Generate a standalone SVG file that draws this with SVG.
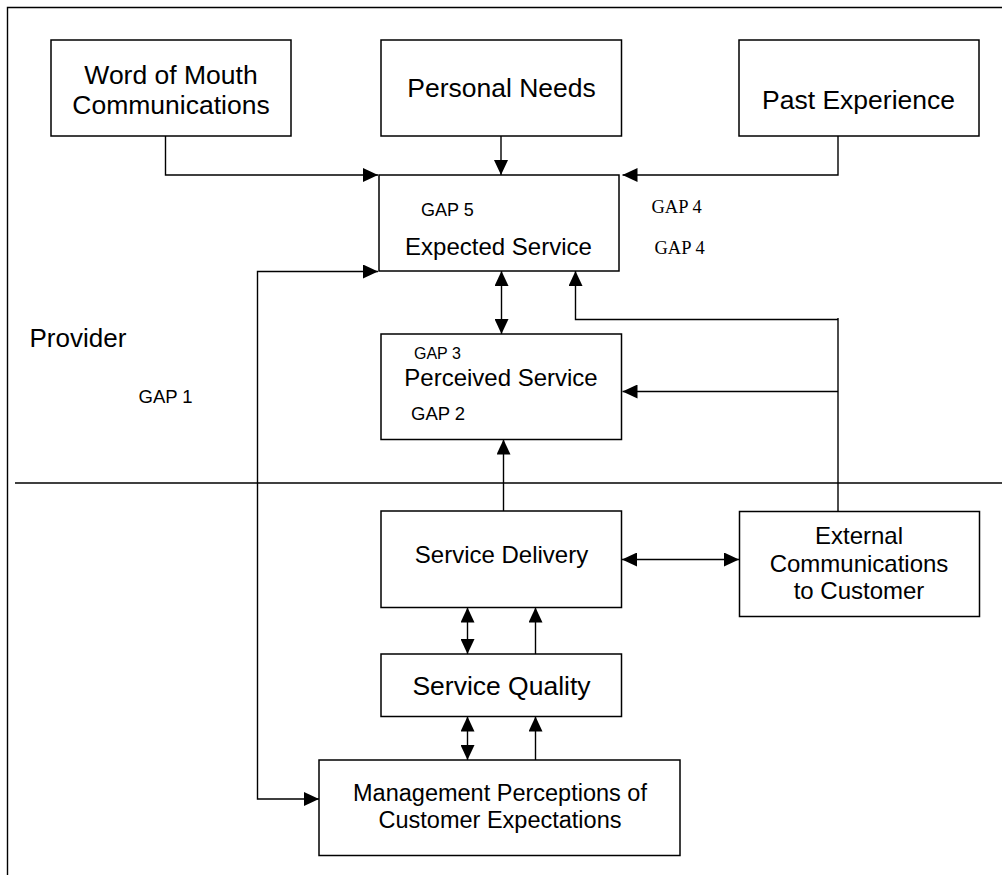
<svg xmlns="http://www.w3.org/2000/svg" width="1002" height="875" viewBox="0 0 1002 875">
<defs>
<marker id="ah" markerUnits="userSpaceOnUse" markerWidth="15" markerHeight="14" refX="15" refY="7" orient="auto-start-reverse">
<path d="M0,0 L15,7 L0,14 Z" fill="#000"/>
</marker>
<style>
rect.box{fill:#fff;stroke:#000;stroke-width:1.5}
.ln{fill:none;stroke:#000;stroke-width:1.4}
text{font-family:"Liberation Sans",Arial,sans-serif;fill:#000}
.c{text-anchor:middle}
.big{font-size:26.5px}
.mid{font-size:24px}
.tm{font-family:"Liberation Serif","Times New Roman",serif;font-size:18.5px}
</style>
</defs>
<rect width="1002" height="875" fill="#fff"/>
<g id="frame">
<path class="ln" d="M7.5,875 V7.5 H1002"/>
<path class="ln" d="M15,483 H1002"/>
</g>
<g id="connectors">
<path class="ln" d="M165.5,136 V175 H378" marker-end="url(#ah)"/>
<path class="ln" d="M501,136 V175" marker-end="url(#ah)"/>
<path class="ln" d="M838,136 V175 H622.5" marker-end="url(#ah)"/>
<path class="ln" d="M501.5,271 V334" marker-start="url(#ah)" marker-end="url(#ah)"/>
<path class="ln" d="M838,319.5 H575.5 V271" marker-end="url(#ah)"/>
<path class="ln" d="M838,318 V511"/>
<path class="ln" d="M838,391.5 H622.5" marker-end="url(#ah)"/>
<path class="ln" d="M503.5,511 V439.5" marker-end="url(#ah)"/>
<path class="ln" d="M622,559.5 H739" marker-start="url(#ah)" marker-end="url(#ah)"/>
<path class="ln" d="M467.5,607.5 V654" marker-start="url(#ah)" marker-end="url(#ah)"/>
<path class="ln" d="M535.5,654 V607.5" marker-end="url(#ah)"/>
<path class="ln" d="M467.5,716.5 V760" marker-start="url(#ah)" marker-end="url(#ah)"/>
<path class="ln" d="M535.5,760 V716.5" marker-end="url(#ah)"/>
<path class="ln" d="M378,271.5 H257.5 V799 H319" marker-start="url(#ah)" marker-end="url(#ah)"/>
</g>
<g id="word-of-mouth">
<rect class="box" x="51" y="40" width="240" height="96"/>
<text class="big c" x="171" y="84">Word of Mouth</text>
<text class="big c" x="171" y="114">Communications</text>
</g>
<g id="personal-needs">
<rect class="box" x="381" y="40" width="240.5" height="96"/>
<text class="big c" x="501.5" y="97">Personal Needs</text>
</g>
<g id="past-experience">
<rect class="box" x="739" y="40" width="240" height="96"/>
<text class="big c" x="858.5" y="109">Past Experience</text>
</g>
<g id="expected-service">
<rect class="box" x="379" y="175" width="240" height="96"/>
<text x="421" y="215.5" style="font-size:18px">GAP 5</text>
<text class="mid c" x="498.5" y="255">Expected Service</text>
</g>
<g id="gap4-labels">
<text class="tm" x="651.5" y="212.5">GAP 4</text>
<text class="tm" x="654.5" y="254">GAP 4</text>
</g>
<g id="provider-label">
<text x="29.5" y="346.5" style="font-size:26px">Provider</text>
<text x="138.5" y="402.5" style="font-size:18.5px">GAP 1</text>
</g>
<g id="perceived-service">
<rect class="box" x="381" y="334" width="240.5" height="105.5"/>
<text x="414" y="359" style="font-size:16px">GAP 3</text>
<text class="mid c" x="501" y="386">Perceived Service</text>
<text x="411" y="420" style="font-size:18.5px">GAP 2</text>
</g>
<g id="service-delivery">
<rect class="box" x="381" y="511" width="240.5" height="96.5"/>
<text class="mid c" x="501.5" y="562.5">Service Delivery</text>
</g>
<g id="external-communications">
<rect class="box" x="739.5" y="511.5" width="240" height="105"/>
<text class="mid c" x="859" y="544.3">External</text>
<text class="mid c" x="859" y="571.7">Communications</text>
<text class="mid c" x="859" y="599.3">to Customer</text>
</g>
<g id="service-quality">
<rect class="box" x="381" y="654" width="240.5" height="62.5"/>
<text class="c" x="501.5" y="695" style="font-size:26.5px">Service Quality</text>
</g>
<g id="management-perceptions">
<rect class="box" x="319" y="760" width="361" height="95.5"/>
<text class="c" x="500" y="800.7" style="font-size:23.5px">Management Perceptions of</text>
<text class="c" x="500" y="828.3" style="font-size:23.5px">Customer Expectations</text>
</g>
</svg>
